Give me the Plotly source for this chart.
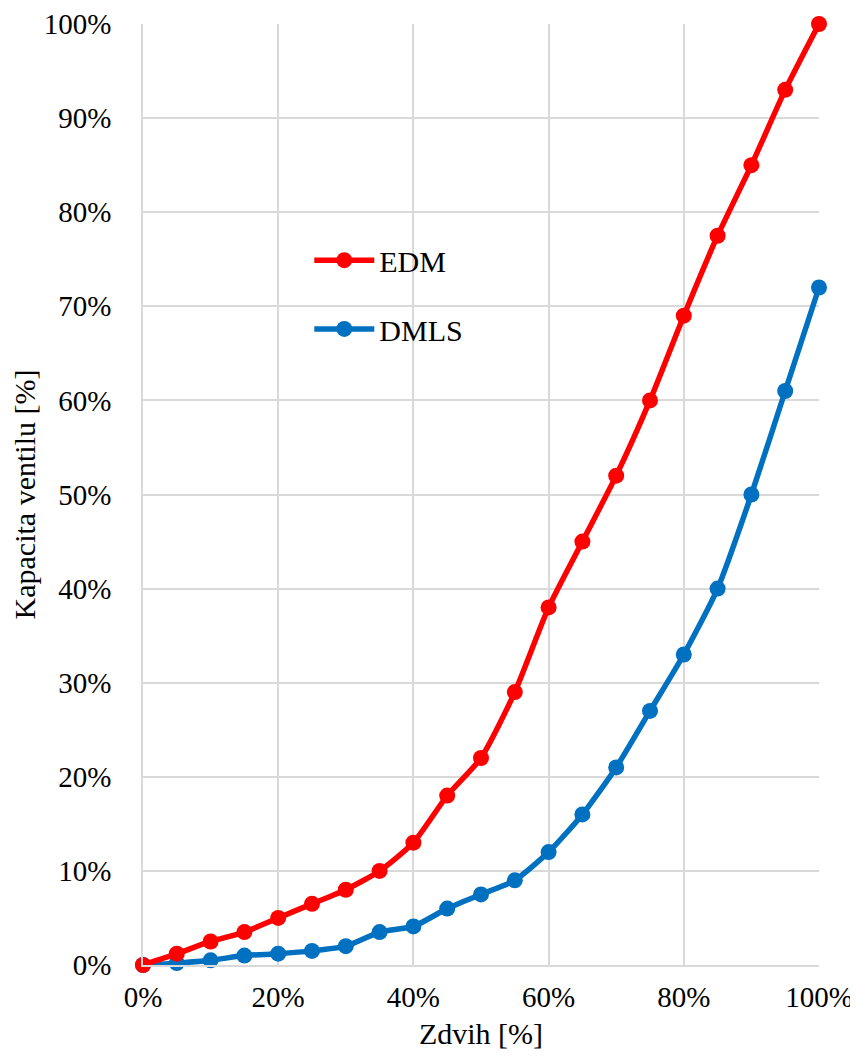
import plotly.graph_objects as go

zdvih = [0, 0.05, 0.10, 0.15, 0.20, 0.25, 0.30, 0.35, 0.40, 0.45, 0.50,
         0.55, 0.60, 0.65, 0.70, 0.75, 0.80, 0.85, 0.90, 0.95, 1.00]
edm = [0, 0.012, 0.025, 0.035, 0.050, 0.065, 0.080, 0.100, 0.130, 0.180, 0.220,
       0.290, 0.380, 0.450, 0.520, 0.600, 0.690, 0.775, 0.850, 0.930, 1.000]
dmls = [0, 0.002, 0.005, 0.010, 0.012, 0.015, 0.020, 0.035, 0.041, 0.060, 0.075,
        0.090, 0.120, 0.160, 0.210, 0.270, 0.330, 0.400, 0.500, 0.610, 0.720]
x_ticks = [0, 0.2, 0.4, 0.6, 0.8, 1.0]
x_labels = ["0%", "20%", "40%", "60%", "80%", "100%"]
y_ticks = [i / 10 for i in range(11)]
y_labels = [f"{i * 10}%" for i in range(11)]

FONT = "Liberation Serif"
fig = go.Figure()
fig.add_trace(go.Scatter(
    x=zdvih, y=dmls, name="DMLS", mode="lines+markers",
    line=dict(color="#0070C0", width=5.5, shape="spline", smoothing=0.6),
    marker=dict(size=16, color="#0070C0"), cliponaxis=False, legend="legend2",
    showlegend=True))
fig.add_trace(go.Scatter(
    x=zdvih, y=edm, name="EDM", mode="lines+markers",
    line=dict(color="#FF0000", width=5.5, shape="spline", smoothing=0.6),
    marker=dict(size=16, color="#FF0000"), cliponaxis=False, legend="legend",
    showlegend=True))

# page body has an 8px margin; figure sized so the plot lands where the reference has it
fig.update_layout(
    width=850, height=1055,
    margin=dict(l=135, r=39, t=16, b=98),
    showlegend=True,
    paper_bgcolor="white", plot_bgcolor="white",
    font=dict(family=FONT, size=29, color="black"),
    legend=dict(x=0.246, y=0.749, xanchor="left", yanchor="middle", itemwidth=60,
                bgcolor="rgba(0,0,0,0)", font=dict(size=30), visible=True),
    legend2=dict(x=0.246, y=0.676, xanchor="left", yanchor="middle", itemwidth=60,
                 bgcolor="rgba(0,0,0,0)", font=dict(size=30), visible=True),
    xaxis=dict(range=[0, 1], tickvals=x_ticks, ticktext=x_labels,
               showgrid=True, gridcolor="#D9D9D9", gridwidth=1.5,
               showline=True, linecolor="#D9D9D9", linewidth=1.5,
               zeroline=False, ticks="", ticklabelstandoff=5, automargin=False,
               title=dict(text="Zdvih [%]", standoff=11, font=dict(size=30))),
    yaxis=dict(range=[0, 1], tickvals=y_ticks, ticktext=y_labels,
               showgrid=True, gridcolor="#D9D9D9", gridwidth=1.5,
               showline=True, linecolor="#D9D9D9", linewidth=1.5,
               zeroline=False, ticks="", ticklabelstandoff=24, automargin=False,
               title=dict(text="Kapacita ventilu [%]", standoff=2, font=dict(size=30))),
)
fig.write_html("out.html")
